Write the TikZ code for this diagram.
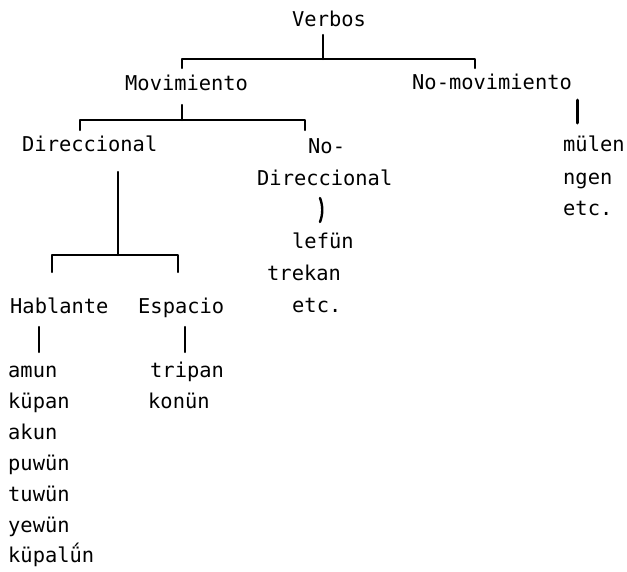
\documentclass[tikz,border=0pt]{standalone}
\usepackage{fontspec}
\setmonofont{DejaVu Sans Mono}
\begin{document}
\begin{tikzpicture}[x=1pt,y=-1pt,
  lbl/.style={font=\ttfamily\fontsize{20.4}{24}\selectfont, inner sep=0pt, anchor=mid west},
  ln/.style={line width=2.4pt, line cap=round, line join=round}]
\useasboundingbox[fill=white] (0,0) rectangle (627,571);

% labels
\node[lbl] (verbos) at (292,24) {Verbos};
\node[lbl] (mov) at (125,88) {Movimiento};
\node[lbl] (nomov) at (412,87) {No-movimiento};
\node[lbl] (dir) at (22,149) {Direccional};
\node[lbl] (nodirA) at (308,151) {No-};
\node[lbl] (nodirB) at (257,183) {Direccional};
\node[lbl] (mulen) at (563,149) {mülen};
\node[lbl] (ngen) at (563,182) {ngen};
\node[lbl] (etcA) at (563,213) {etc.};
\node[lbl] (lefun) at (292,246) {lefün};
\node[lbl] (trekan) at (267,278) {trekan};
\node[lbl] (etcB) at (292,310) {etc.};
\node[lbl] (habl) at (10,311) {Hablante};
\node[lbl] (esp) at (138,311) {Espacio};
\node[lbl] (amun) at (8,375) {amun};
\node[lbl] (kupan) at (8,406) {küpan};
\node[lbl] (akun) at (8,437) {akun};
\node[lbl] (puwun) at (8,468) {puwün};
\node[lbl] (tuwun) at (8,499) {tuwün};
\node[lbl] (yewun) at (8,530) {yewün};
\node[lbl] (kupalun) at (8,560) {küpalǘn};
\node[lbl] (tripan) at (150,375) {tripan};
\node[lbl] (konun) at (148,406) {konün};

% junction coordinates
\coordinate (vtop) at (323,35);
\coordinate (vj) at (323,59);
\coordinate (b1l) at (182,59);
\coordinate (b1r) at (475,59);
\coordinate (t1l) at (182,68);
\coordinate (t1r) at (475,68);
\coordinate (mtop) at (182,105);
\coordinate (mj) at (182,120);
\coordinate (b2l) at (80,120);
\coordinate (b2r) at (305,120);
\coordinate (t2l) at (80,130);
\coordinate (t2r) at (305,130);
\coordinate (ntop) at (577,100);
\coordinate (nbot) at (577,123);
\coordinate (dtop) at (118,172);
\coordinate (dj) at (118,255);
\coordinate (b3l) at (52,255);
\coordinate (b3r) at (178,255);
\coordinate (t3l) at (52,272);
\coordinate (t3r) at (178,272);
\coordinate (htop) at (39,327);
\coordinate (hbot) at (39,352);
\coordinate (etop) at (185,327);
\coordinate (ebot) at (185,352);
\coordinate (ndtop) at (320,198);
\coordinate (ndbot) at (320,222);

% connectors
\draw[ln] (vtop) -- (vj);
\draw[ln] (t1l) -- (b1l) -- (b1r) -- (t1r);
\draw[ln] (mtop) -- (mj);
\draw[ln] (t2l) -- (b2l) -- (b2r) -- (t2r);
\draw[ln, line width=3pt] (ntop) -- (nbot);
\draw[ln] (dtop) -- (dj);
\draw[ln] (t3l) -- (b3l) -- (b3r) -- (t3r);
\draw[ln] (htop) -- (hbot);
\draw[ln] (etop) -- (ebot);
\draw[ln] (ndtop) .. controls (323,206) and (323,214) .. (ndbot);
\end{tikzpicture}
\end{document}
